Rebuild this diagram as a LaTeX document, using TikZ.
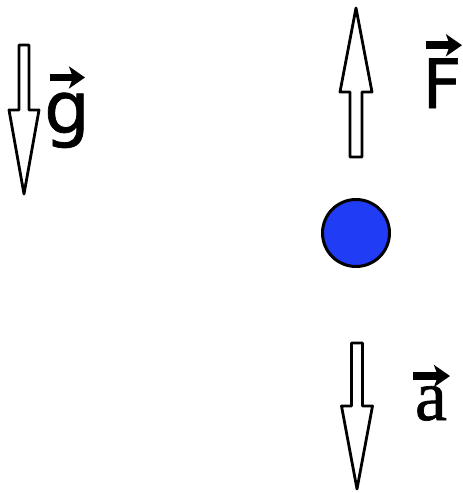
\documentclass[tikz,border=0pt]{standalone}
\usepackage{fontspec}
\setmainfont{DejaVu Sans}
\newfontfamily\sanslbl[FakeBold=1.0]{DejaVu Sans}
\newfontfamily\seriflbl[FakeBold=1.0]{Liberation Serif}
\usepackage{xcolor}
\usetikzlibrary{arrows.meta}

\definecolor{ballblue}{RGB}{32,60,245}

\begin{document}
\begin{tikzpicture}[x=1pt, y=-1pt,
  blockarr/.style={draw=black, fill=white, line width=2.8pt, line join=round},
  vecarr/.style={-{Stealth[length=16pt,width=22pt,inset=4pt]}, line width=7.5pt},
  lbl/.style={inner sep=0pt, anchor=base, font=\fontsize{72}{72}\sanslbl},
  ball/.style={circle, draw=black, line width=3pt, fill=ballblue, minimum size=67pt, inner sep=0pt}]
\useasboundingbox (0,0) rectangle (463,493);
% block arrows: centre x / tail / head base / tip / shaft and head half width
\foreach \x/\tail/\base/\tip/\sw/\hw in {24/45/110/194/5/15, 356/157/92/8/6/16, 357/343/406/489/5.5/15.5}
  \draw[blockarr] (\x-\sw,\tail) -- (\x-\sw,\base) -- (\x-\hw,\base) -- (\x,\tip)
    -- (\x+\hw,\base) -- (\x+\sw,\base) -- (\x+\sw,\tail) -- cycle;
\node[ball] (mass) at (356,233) {};
% vector labels
\node[lbl] (glbl) at (67,133) {g};
\node[lbl, font=\fontsize{68}{68}\sanslbl] (Flbl) at (442,108) {F};
\node[lbl, font=\fontsize{72}{72}\seriflbl] (albl) at (431,420) {a};
\draw[vecarr] ([shift={(-17,-15)}]glbl.north) -- ++(35,0);
\draw[vecarr] ([shift={(-16,-13)}]Flbl.north) -- ++(36,0);
\draw[vecarr] ([shift={(-18,-10)}]albl.north) -- ++(37,0);
\end{tikzpicture}
\end{document}
